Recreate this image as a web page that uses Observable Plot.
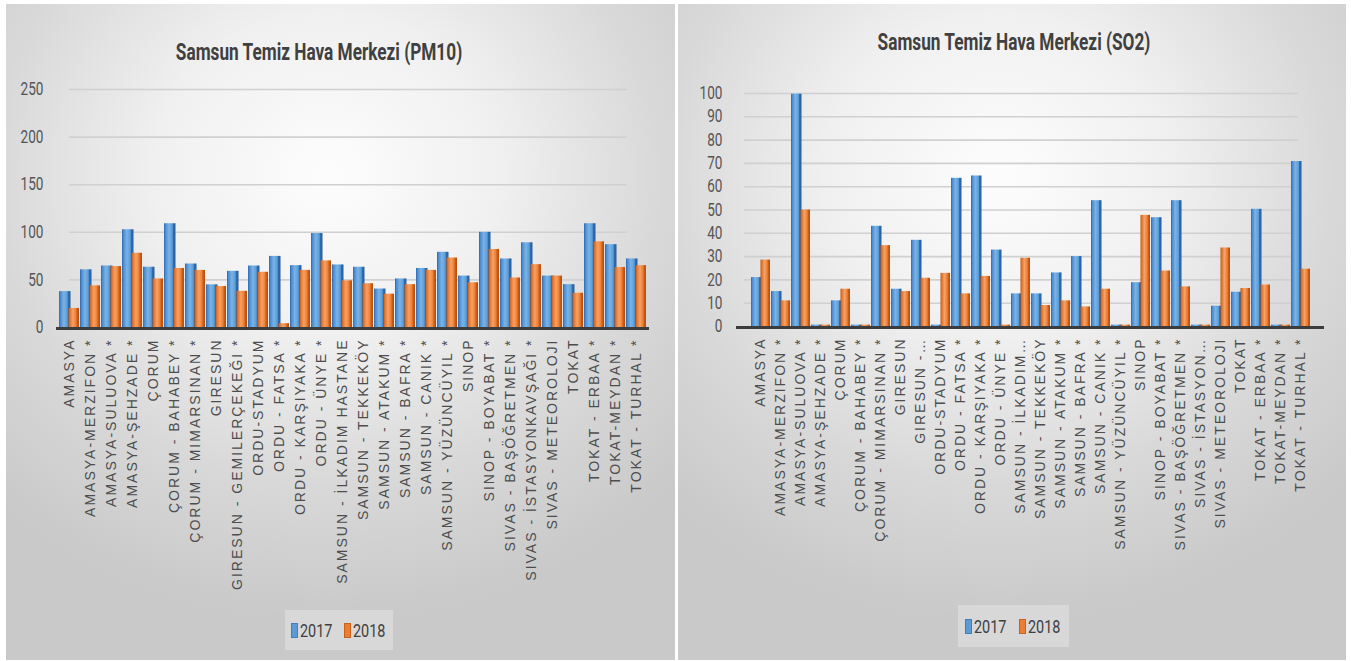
<!DOCTYPE html>
<html>
<head>
<meta charset="utf-8">
<script src="https://cdn.jsdelivr.net/npm/d3@7"></script>
<script src="https://cdn.jsdelivr.net/npm/@observablehq/plot@0.6"></script>
<style>
  html, body { margin: 0; padding: 0; background: #ffffff; }
  body { width: 1351px; height: 661px; position: relative; overflow: hidden; font-family: "Liberation Sans", Arial, sans-serif; }
  .panel { position: absolute; top: 4px; height: 656px;
    background: radial-gradient(ellipse 72% 68% at 48% 26%, #fdfdfd 0%, #f0f0f0 36%, #d8d8d8 70%, #c9c9c9 100%); }
  .title { position: absolute; transform: translate(-50%, -50%) scale(0.82, 1.12); white-space: nowrap;
    font-family: "Roboto", sans-serif; font-weight: bold; font-size: 21px; color: #404040; }
  .chart { position: absolute; top: 70px; }
  .legend { position: absolute; background: rgba(255,255,255,0.28); display: flex; align-items: center; justify-content: center; gap: 10px;
    font-family: "Roboto", sans-serif; font-size: 17px; color: #404040; }
  .legend span.item { display: flex; align-items: center; gap: 2px; }
  .legend span.txt { display: inline-block; transform: scale(0.85, 1.12); transform-origin: left center; margin-right: -4px; }
  .legend i { display: inline-block; width: 5px; height: 13px; }
</style>
</head>
<body>
<div class="panel" style="left:6px; width:669px;"></div>
<div class="panel" style="left:678px; width:668px;"></div>
<div class="title" style="left:319px; top:52px;">Samsun Temiz Hava Merkezi (PM10)</div>
<div class="title" style="left:1014px; top:42px;">Samsun Temiz Hava Merkezi (SO2)</div>
<div id="c1" class="chart" style="left:6px;"></div>
<div id="c2" class="chart" style="left:678px;"></div>
<div class="legend" style="left:285px; top:610px; width:108px; height:40px;">
  <span class="item"><i style="background:#5b9bd5; border:1px solid #3f7fbf"></i><span class="txt">2017</span></span>
  <span class="item"><i style="background:#ed7d31; border:1px solid #c8621c"></i><span class="txt">2018</span></span>
</div>
<div class="legend" style="left:958px; top:605px; width:111px; height:42px;">
  <span class="item"><i style="background:#5b9bd5; border:1px solid #3f7fbf"></i><span class="txt">2017</span></span>
  <span class="item"><i style="background:#ed7d31; border:1px solid #c8621c"></i><span class="txt">2018</span></span>
</div>
<script>
// ---------- DATA ----------
const seriesNames = ["2017", "2018"];

const pm10Stations = [
  "AMASYA", "AMASYA-MERZIFON *", "AMASYA-SULUOVA *", "AMASYA-ŞEHZADE *", "ÇORUM",
  "ÇORUM - BAHABEY *", "ÇORUM - MIMARSINAN *", "GIRESUN", "GIRESUN - GEMILERÇEKEĞI *",
  "ORDU-STADYUM", "ORDU - FATSA *", "ORDU - KARŞIYAKA *", "ORDU - ÜNYE *",
  "SAMSUN - İLKADIM HASTANE", "SAMSUN - TEKKEKÖY", "SAMSUN - ATAKUM *", "SAMSUN - BAFRA *",
  "SAMSUN - CANIK *", "SAMSUN - YÜZÜNCÜYIL *", "SINOP", "SINOP - BOYABAT *",
  "SIVAS - BAŞÖĞRETMEN *", "SIVAS - İSTASYONKAVŞAĞI *", "SIVAS - METEOROLOJI", "TOKAT",
  "TOKAT - ERBAA *", "TOKAT-MEYDAN *", "TOKAT - TURHAL *"
];
const pm10_2017 = [37.7, 60.6, 64.6, 102.7, 63.3, 109, 66.7, 44.8, 59, 64.6, 74.7, 65, 98.7, 65.7,
                   63.3, 40.4, 51, 62, 79, 54, 100, 72, 89, 54, 45, 109, 87, 72];
const pm10_2018 = [20, 43.8, 64, 78, 51, 62, 60, 43, 38, 58, 4, 60, 70, 49,
                   46, 35, 45, 60, 73, 47, 82, 52, 66, 54, 36, 90, 63, 65];
const pm10Ticks = [0, 50, 100, 150, 200, 250];

const so2Stations = [
  "AMASYA", "AMASYA-MERZIFON *", "AMASYA-SULUOVA *", "AMASYA-ŞEHZADE *", "ÇORUM",
  "ÇORUM - BAHABEY *", "ÇORUM - MIMARSINAN *", "GIRESUN", "GIRESUN -…",
  "ORDU-STADYUM", "ORDU - FATSA *", "ORDU - KARŞIYAKA *", "ORDU - ÜNYE *",
  "SAMSUN - İLKADIM…", "SAMSUN - TEKKEKÖY", "SAMSUN - ATAKUM *", "SAMSUN - BAFRA *",
  "SAMSUN - CANIK *", "SAMSUN - YÜZÜNCÜYIL *", "SINOP", "SINOP - BOYABAT *",
  "SIVAS - BAŞÖĞRETMEN *", "SIVAS - İSTASYON…", "SIVAS - METEOROLOJI", "TOKAT",
  "TOKAT - ERBAA *", "TOKAT-MEYDAN *", "TOKAT - TURHAL *"
];
const so2_2017 = [21, 15, 99.7, 0.6, 11, 0.6, 43, 16, 37, 0.6, 63.6, 64.6, 32.8, 14,
                  14, 23, 30, 54, 0.6, 18.8, 46.7, 54, 0.6, 8.7, 14.7, 50.3, 0.6, 70.8];
const so2_2018 = [28.5, 11, 50, 0.6, 16, 0.6, 34.7, 15, 20.7, 22.8, 14, 21.5, 0.6, 29.3,
                  9, 11, 8.4, 16, 0.6, 47.7, 23.8, 17, 0.6, 33.7, 16.3, 17.8, 0.6, 24.6];
const so2Ticks = [0, 10, 20, 30, 40, 50, 60, 70, 80, 90, 100];

// ---------- CHART ----------
function addGradients(svg, suffix) {
  const defs = d3.select(svg).insert("defs", ":first-child");
  const grads = [
    ["g17" + suffix, [["0%", "#2c67a8"], ["12%", "#4a8ad0"], ["42%", "#7ab4e7"], ["72%", "#5b9bd5"], ["80%", "#2f6db0"], ["100%", "#285e9c"]]],
    ["g18" + suffix, [["0%", "#b9530f"], ["12%", "#e0712a"], ["42%", "#f7a165"], ["72%", "#ed7d31"], ["80%", "#cc6019"], ["100%", "#b04d10"]]]
  ];
  for (const [id, stops] of grads) {
    const g = defs.append("linearGradient").attr("id", id).attr("x1", "0%").attr("x2", "100%").attr("y1", "0%").attr("y2", "0%");
    for (const [o, c] of stops) g.append("stop").attr("offset", o).attr("stop-color", c);
  }
}

function makeChart(opts) {
  const { stations, v17, v18, ticks, suffix, width, marginLeft, marginRight, marginTop, marginBottom,
          tickPadding, gridInsetLeft, gridInsetRight } = opts;
  const d17 = stations.map((s, i) => ({ station: s, value: v17[i], series: seriesNames[0] }));
  const d18 = stations.map((s, i) => ({ station: s, value: v18[i], series: seriesNames[1] }));
  const svg = Plot.plot({
    width, height: 530, marginLeft, marginRight, marginTop, marginBottom,
    style: { background: "transparent", color: "#595959", fontFamily: "Roboto, sans-serif", fontSize: "16px" },
    x: { domain: stations, padding: 0.06, label: null, tickRotate: -90, tickSize: 0, tickPadding: 11 },
    y: { domain: [0, ticks[ticks.length - 1]], ticks, label: null, tickSize: 0, tickPadding },
    marks: [
      Plot.ruleY(ticks.filter(d => d > 0), { stroke: "#d0d0d0", strokeWidth: 1.6, insetLeft: gridInsetLeft, insetRight: gridInsetRight }),
      Plot.barY(d17, { x: "station", y: "value", fill: `url(#g17${suffix})`, insetRight: 8.5 }),
      Plot.barY(d18, { x: "station", y: "value", fill: `url(#g18${suffix})`, insetLeft: 9.5 }),
      Plot.ruleY([0], { stroke: "#3c3c3c", strokeWidth: 3, dy: 1 })
    ]
  });
  addGradients(svg, suffix);
  d3.select(svg).selectAll('[aria-label^="x-axis"] text')
    .style("font-family", "'Liberation Sans', Arial, sans-serif")
    .style("font-size", "14px")
    .style("letter-spacing", "2px")
    .style("fill", "#4d4d4d");
  d3.select(svg).selectAll('[aria-label^="y-axis"] text').each(function () {
    const t = this.getAttribute("transform") || "";
    this.setAttribute("transform", t + " scale(0.85,1.1)");
  }).style("fill", "#555");
  return svg;
}

document.getElementById("c1").appendChild(makeChart({
  stations: pm10Stations, v17: pm10_2017, v18: pm10_2018, ticks: pm10Ticks, suffix: "a",
  width: 669, marginLeft: 50, marginRight: 26, marginTop: 19, marginBottom: 273, tickPadding: 13,
  gridInsetLeft: 13, gridInsetRight: 22
}));
document.getElementById("c2").appendChild(makeChart({
  stations: so2Stations, v17: so2_2017, v18: so2_2018, ticks: so2Ticks, suffix: "b",
  width: 668, marginLeft: 58, marginRight: 22, marginTop: 23, marginBottom: 274, tickPadding: 14,
  gridInsetLeft: 8, gridInsetRight: 26
}));
</script>
</body>
</html>
